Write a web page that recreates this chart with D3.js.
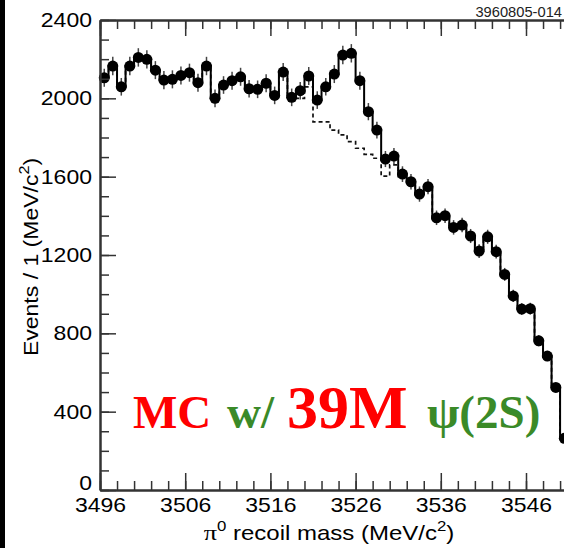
<!DOCTYPE html>
<html>
<head>
<meta charset="utf-8">
<script src="https://cdn.jsdelivr.net/npm/d3@7"></script>
<style>
  body { margin: 0; background: #fff; }
  svg { display: block; }
</style>
</head>
<body>
<svg width="564" height="548"></svg>
<script>
// bin edges: 1 MeV bins starting at 3496
var firstEdge = 3496;
// MC events per bin (points + solid histogram)
var counts = [2105, 2165, 2059, 2165, 2209, 2199, 2144, 2093, 2097, 2117,
              2131, 2080, 2165, 2000, 2068, 2090, 2110, 2049, 2046, 2077,
              2015, 2134, 2005, 2039, 2114, 1991, 2059, 2124, 2221, 2230,
              2090, 1932, 1838, 1690, 1705, 1613, 1574, 1511, 1549, 1390,
              1401, 1341, 1353, 1297, 1220, 1293, 1217, 1101, 991, 924,
              926, 762, 684, 524, 264];
var errors = [46, 47, 45, 47, 47, 47, 46, 46, 46, 46,
              46, 46, 47, 45, 45, 46, 46, 45, 45, 46,
              45, 46, 45, 45, 46, 45, 45, 46, 47, 47,
              46, 44, 43, 41, 41, 40, 40, 39, 39, 37,
              37, 37, 37, 36, 35, 36, 35, 33, 31, 30,
              30, 28, 26, 23, 16];
// background histogram (dashed)
var background = [2105, 2165, 2059, 2165, 2209, 2199, 2144, 2093, 2097, 2117,
                  2131, 2080, 2165, 2000, 2068, 2090, 2110, 2049, 2046, 2077,
                  2015, 2134, 2005, 2000, 2059, 1880, 1880, 1838, 1813, 1779,
                  1745, 1714, 1694, 1603, 1660, 1600, 1560, 1500, 1540, 1385,
                  1395, 1335, 1345, 1290, 1215, 1285, 1210, 1095, 985, 918,
                  920, 755, 678, 518, 258];

var xMajor = [3496, 3506, 3516, 3526, 3536, 3546];
var yMajor = [0, 400, 800, 1200, 1600, 2000, 2400];

var svg = d3.select("svg");

// black strip at left edge
svg.append("rect").attr("x", 0).attr("y", 0).attr("width", 5).attr("height", 548).attr("fill", "#000");

var x = d3.scaleLinear().domain([3496, 3551]).range([100, 568.6]);
var y = d3.scaleLinear().domain([0, 2400]).range([490, 20]);

// step histograms
function stepData(vals) {
    var pts = vals.map(function (v, i) { return [firstEdge + i, v]; });
    pts.push([firstEdge + vals.length, vals[vals.length - 1]]);
    return pts;
}
var stepLine = d3.line()
    .x(function (d) { return x(d[0]); })
    .y(function (d) { return y(d[1]); })
    .curve(d3.curveStepAfter);

var plot = svg.append("g");

plot.append("path")
    .attr("d", stepLine(stepData(background)))
    .attr("fill", "none")
    .attr("stroke", "#111")
    .attr("stroke-width", 1.7)
    .attr("stroke-dasharray", "4,3");

plot.append("path")
    .attr("d", stepLine(stepData(counts)))
    .attr("fill", "none")
    .attr("stroke", "#000")
    .attr("stroke-width", 2);

// error bars
plot.selectAll(".err")
    .data(counts)
    .enter()
    .append("line")
    .attr("class", "err")
    .attr("x1", function (d, i) { return x(firstEdge + i + 0.5); })
    .attr("x2", function (d, i) { return x(firstEdge + i + 0.5); })
    .attr("y1", function (d, i) { return y(d - errors[i]); })
    .attr("y2", function (d, i) { return y(d + errors[i]); })
    .attr("stroke", "#444")
    .attr("stroke-width", 1.5);

// points
plot.selectAll(".pt")
    .data(counts)
    .enter()
    .append("circle")
    .attr("class", "pt")
    .attr("cx", function (d, i) { return x(firstEdge + i + 0.5); })
    .attr("cy", function (d) { return y(d); })
    .attr("r", 5.5)
    .attr("fill", "#000");

// axes
var axisColor = "#333";
function styleAxis(g) {
    g.select(".domain").attr("stroke", axisColor).attr("stroke-width", 2);
    g.selectAll(".tick line").attr("stroke", axisColor).attr("stroke-width", 1.5);
    g.selectAll("text")
        .attr("font-family", "'Liberation Sans', Arial, sans-serif")
        .attr("font-size", 20)
        .attr("fill", "#000")
        .attr("transform", "scale(1.15,1)");
}

var xMinor = d3.range(3496, 3551, 2);
var yMinor = d3.range(0, 2401, 100);

svg.append("g").attr("transform", "translate(0,490)")
    .call(d3.axisBottom(x).tickValues(xMinor).tickSizeInner(-9).tickSizeOuter(0).tickFormat(""))
    .call(styleAxis);
svg.append("g").attr("transform", "translate(0,490)")
    .call(d3.axisBottom(x).tickValues(xMajor).tickSizeInner(-17).tickSizeOuter(0).tickPadding(8).tickFormat(d3.format("d")))
    .call(styleAxis);

svg.append("g").attr("transform", "translate(0,20)")
    .call(d3.axisTop(x).tickValues(xMinor).tickSizeInner(-9).tickSizeOuter(0).tickFormat(""))
    .call(styleAxis);
svg.append("g").attr("transform", "translate(0,20)")
    .call(d3.axisTop(x).tickValues(xMajor).tickSizeInner(-16).tickSizeOuter(0).tickFormat(""))
    .call(styleAxis);

svg.append("g").attr("transform", "translate(100,0)")
    .call(d3.axisLeft(y).tickValues(yMinor).tickSizeInner(-9).tickSizeOuter(0).tickFormat(""))
    .call(styleAxis);
var yAxisG = svg.append("g").attr("transform", "translate(100,0)")
    .call(d3.axisLeft(y).tickValues(yMajor).tickSizeInner(-16).tickSizeOuter(0).tickPadding(7).tickFormat(d3.format("d")))
    .call(styleAxis);
// the "0" label sits a little above its tick
yAxisG.selectAll(".tick text").filter(function (d) { return d === 0; }).attr("y", -7);

// axis titles
var sans = "'Liberation Sans', Arial, sans-serif";
var xt = svg.append("text")
    .attr("transform", "translate(329,540) scale(1.2,1)")
    .attr("text-anchor", "middle")
    .attr("font-family", sans)
    .attr("font-size", 20);
xt.append("tspan").attr("font-family", "'Liberation Serif', serif").attr("font-size", 22).text("π");
xt.append("tspan").attr("font-size", 14).attr("dy", -9).text("0");
xt.append("tspan").attr("dy", 9).text(" recoil mass (MeV/c");
xt.append("tspan").attr("font-size", 14).attr("dy", -9).text("2");
xt.append("tspan").attr("dy", 9).text(")");

var yt = svg.append("text")
    .attr("transform", "translate(38,257) rotate(-90) scale(1.15,1)")
    .attr("text-anchor", "middle")
    .attr("font-family", sans)
    .attr("font-size", 20);
yt.append("tspan").text("Events / 1 (MeV/c");
yt.append("tspan").attr("font-size", 14).attr("dy", -9).text("2");
yt.append("tspan").attr("dy", 9).text(")");

// figure id
svg.append("text")
    .attr("transform", "translate(562,16.5) scale(1.05,1)")
    .attr("text-anchor", "end")
    .attr("font-family", sans)
    .attr("font-size", 14)
    .attr("fill", "#222")
    .text("3960805-014");

// overlay label
var red = "#ff0000", green = "#3a8a28";
var serif = "'Liberation Serif', 'Times New Roman', serif";
var label = [
    { t: "MC", x: 133, size: 47, c: red },
    { t: "w/", x: 227, size: 47, c: green },
    { t: "39M", x: 287, size: 62, c: red },
    { t: "ψ(2S)", x: 427, size: 47, c: green }
];
svg.selectAll(".lbl")
    .data(label)
    .enter()
    .append("text")
    .attr("class", "lbl")
    .attr("x", function (d) { return d.x; })
    .attr("y", 428)
    .attr("font-family", serif)
    .attr("font-weight", "bold")
    .attr("font-size", function (d) { return d.size; })
    .attr("fill", function (d) { return d.c; })
    .text(function (d) { return d.t; });
</script>
</body>
</html>
